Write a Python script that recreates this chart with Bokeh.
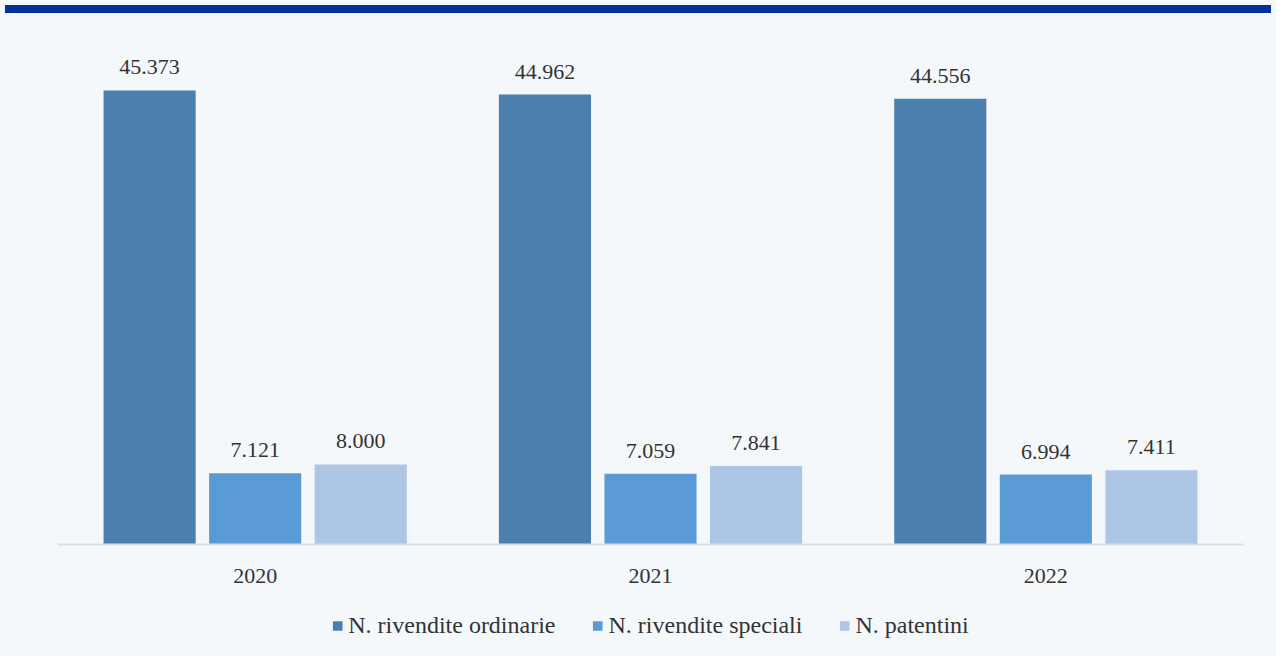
from bokeh.plotting import figure
from bokeh.models import ColumnDataSource, LabelSet, Legend, LegendItem, Div, Range1d
from bokeh.transform import dodge
from bokeh.layouts import column
from bokeh.embed import file_html
from bokeh.resources import INLINE

years = ["2020", "2021", "2022"]
ordinarie = [45373, 44962, 44556]
speciali = [7121, 7059, 6994]
patentini = [8000, 7841, 7411]
series_names = ["N. rivendite ordinarie", "N. rivendite speciali", "N. patentini"]
colors = ["#4a7fae", "#5b9bd5", "#adc6e5"]

FONT = "Liberation Serif"
TXT = "#333333"
BG = "#f4f8fb"


def fmt(v):
    return f"{v:,}".replace(",", ".")


src = ColumnDataSource(dict(
    year=years,
    ordinarie=ordinarie,
    speciali=speciali,
    patentini=patentini,
    l_ord=[fmt(v) for v in ordinarie],
    l_spe=[fmt(v) for v in speciali],
    l_pat=[fmt(v) for v in patentini],
))

p = figure(x_range=years, y_range=Range1d(0, 49370), width=1266, height=582,
           output_backend="svg", toolbar_location=None,
           min_border_left=57, min_border_right=23, min_border_top=32, min_border_bottom=56)
p.x_range.range_padding = 0
p.background_fill_color = BG
p.border_fill_color = BG
p.outline_line_color = None
p.xgrid.visible = False
p.ygrid.visible = False
p.yaxis.visible = False

w = 0.233
off = 0.267
cols = ["ordinarie", "speciali", "patentini"]
labs = ["l_ord", "l_spe", "l_pat"]
offsets = [-off, 0.0, off]
for c, lab, o, col in zip(cols, labs, offsets, colors):
    p.vbar(x=dodge("year", o, range=p.x_range), top=c, width=w, source=src,
           fill_color=col, line_color=None)
    ls = LabelSet(x=dodge("year", o, range=p.x_range), y=c, text=lab, source=src,
                  text_align="center", text_baseline="alphabetic", y_offset=16,
                  text_font=FONT, text_font_size="22px", text_color=TXT)
    p.add_layout(ls)

ax = p.xaxis[0]
ax.axis_line_color = "#dedede"
ax.axis_line_width = 2
ax.major_tick_line_color = None
ax.minor_tick_line_color = None
ax.major_label_text_font = FONT
ax.major_label_text_font_size = "22px"
ax.major_label_text_color = TXT
ax.major_label_standoff = 18

# legend strip below the chart (proxy glyphs lie outside the visible range)
lf = figure(width=1266, height=56, x_range=Range1d(0, 1), y_range=Range1d(0, 1),
            output_backend="svg", toolbar_location=None,
            x_axis_location=None, y_axis_location=None,
            min_border_left=44, min_border_right=0, min_border_top=0, min_border_bottom=6)
lf.background_fill_color = BG
lf.border_fill_color = BG
lf.outline_line_color = None
lf.xgrid.visible = False
lf.ygrid.visible = False
items = []
for n, col in zip(series_names, colors):
    r = lf.vbar(x=[-10], top=[0], width=0.1, fill_color=col, line_color=None)
    items.append(LegendItem(label=n, renderers=[r]))
legend = Legend(items=items, orientation="horizontal", location="center",
                label_text_font=FONT, label_text_font_size="24px", label_text_color=TXT,
                glyph_width=12, glyph_height=12, label_standoff=5, spacing=36,
                background_fill_alpha=0, border_line_color=None,
                padding=0, margin=0, label_height=20)
lf.add_layout(legend, "center")

band = Div(text="", width=1266, height=8, styles={"background-color": "#003399"})
layout = column(band, p, lf, spacing=0, styles={"background-color": BG})

open("out.html", "w").write(file_html(layout, INLINE))
